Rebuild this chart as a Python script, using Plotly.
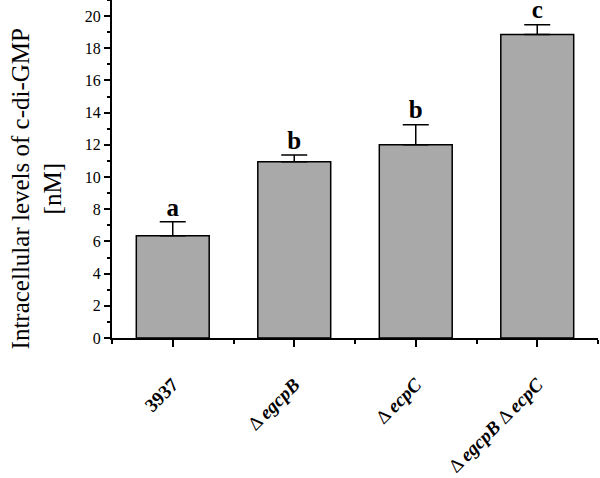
import plotly.graph_objects as go

strains = ["3937", "ΔegcpB", "ΔecpC", "ΔegcpB ΔecpC"]
tick_text = ["<b>3937</b>", "Δ <b><i>egcpB</i></b>", "Δ <b><i>ecpC</i></b>",
             "Δ <b><i>egcpB</i></b> Δ <b><i>ecpC</i></b>"]
levels = [6.35, 10.95, 12.0, 18.85]
errors = [0.87, 0.42, 1.25, 0.62]
letters = ["a", "b", "b", "c"]

xpos = list(range(len(strains)))
font = "Liberation Serif"

fig = go.Figure()
fig.add_trace(go.Bar(
    x=xpos, y=levels, width=0.6,
    marker=dict(color="#a9a9a9", line=dict(color="black", width=1.5)),
    error_y=dict(type="data", symmetric=False, array=errors,
                 arrayminus=[0] * len(errors), color="black",
                 thickness=1.5, width=13),
    showlegend=False,
))

# significance letters just above each error bar
fig.add_trace(go.Scatter(
    x=xpos, y=[v + e for v, e in zip(levels, errors)],
    mode="text", text=["<b>" + l + "</b>" for l in letters],
    textposition="top center", cliponaxis=False, showlegend=False,
    textfont=dict(family=font, size=25, color="black"),
))

# y title placed by hand (it sits below the middle of the axis in the original)
fig.add_annotation(xref="paper", yref="paper", x=-0.154, y=0.44,
                   text="Intracellular levels of c-di-GMP<br>[nM]",
                   textangle=-90, showarrow=False, xanchor="center",
                   yanchor="middle",
                   font=dict(family=font, size=25, color="black"))

fig.update_layout(
    width=600, height=478,
    margin=dict(l=112, r=2, t=0, b=140),
    plot_bgcolor="white", paper_bgcolor="white",
    font=dict(family=font, color="black", size=16),
)
fig.update_xaxes(
    range=[-0.5, 3.5], tickvals=xpos, ticktext=tick_text, automargin=False,
    tickangle=-45, ticks="outside", ticklen=7, tickwidth=1.5,
    tickcolor="black", showline=True, linecolor="black", linewidth=2,
    showgrid=False, zeroline=False, tickfont=dict(size=19),
    ticklabelstandoff=19,
    minor=dict(tickvals=[-0.5, 0.5, 1.5, 2.5, 3.5], ticks="outside",
               ticklen=4, tickwidth=1.5, tickcolor="black"),
)
fig.update_yaxes(
    range=[0, 21], tick0=0, dtick=2, ticks="outside", ticklen=6,
    tickwidth=1.5, tickcolor="black", showline=True, linecolor="black",
    linewidth=2, showgrid=False, zeroline=False, tickfont=dict(size=16),
    automargin=False,
    minor=dict(dtick=1, ticks="outside", ticklen=3, tickwidth=1.5,
               tickcolor="black"),
)

# page has a default 8px body margin; drop it so the chart sits at the corner
fig.write_html("out.html", config={"displayModeBar": False},
               post_script="document.body.style.margin='0';")
